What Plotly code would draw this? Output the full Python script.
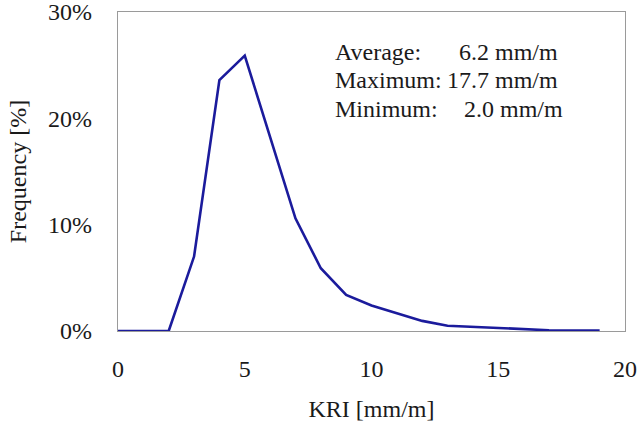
import plotly.graph_objects as go

kri = list(range(0, 20))
freq = [0.0, 0.0, 0.0, 7.0, 23.6, 25.9, 18.3, 10.6, 5.9, 3.4, 2.4, 1.7, 0.95, 0.5, 0.4, 0.3, 0.2, 0.07, 0.05, 0.05]

stat_labels = ["Average:", "Maximum:", "Minimum:"]
stat_values = ["6.2 mm/m", "17.7 mm/m", "2.0 mm/m"]

x_ticks = [0, 5, 10, 15, 20]
y_ticks = [0, 10, 20, 30]
y_ticktext = ["0%", "10%", "20%", "30%"]

FONT = "Liberation Serif"
TXT = "#1a1a1a"

fig = go.Figure()
fig.add_trace(go.Scatter(x=kri, y=freq, mode="lines",
                         line=dict(color="#1b1b9c", width=2.6), showlegend=False))

L, R, T, B = 117.5, 14, 11.5, 102
W, H = 639, 433
pw = W - L - R
ph = H - T - B

def px(x):
    return (x - L) / pw

def py(y):
    return (H - B - y) / ph

row_y = [52, 80, 109]
val_x = [457, 445, 462]
ann = []
for i in range(3):
    ann.append(dict(x=px(333), y=py(row_y[i]), xref="paper", yref="paper",
                    text=stat_labels[i], showarrow=False, xanchor="left", yanchor="middle",
                    font=dict(family=FONT, size=24, color=TXT)))
    ann.append(dict(x=px(val_x[i]), y=py(row_y[i]), xref="paper", yref="paper",
                    text=stat_values[i], showarrow=False, xanchor="left", yanchor="middle",
                    font=dict(family=FONT, size=24, color=TXT)))

fig.update_layout(
    width=W, height=H,
    margin=dict(l=L, r=R, t=T, b=B, autoexpand=False),
    paper_bgcolor="white", plot_bgcolor="white",
    font=dict(family=FONT, size=24, color=TXT),
    annotations=ann,
    xaxis=dict(range=[0, 20], tickvals=x_ticks, ticks="", showgrid=False, zeroline=False,
               showline=True, linecolor="#9a9a9a", linewidth=1.2, mirror=True,
               ticklabelstandoff=16, ticklabeloverflow="allow",
               title=dict(text="KRI [mm/m]", standoff=19, font=dict(size=24))),
    yaxis=dict(range=[0, 30], tickvals=y_ticks, ticktext=y_ticktext, ticks="", showgrid=False,
               zeroline=False, showline=True, linecolor="#9a9a9a", linewidth=1.2, mirror=True,
               ticklabelstandoff=20, ticklabeloverflow="allow",
               title=dict(text="Frequency [%]", standoff=14, font=dict(size=24))),
)

fig.write_html("out.html",
               config={"displayModeBar": False},
               post_script="document.body.style.margin='0';document.body.style.overflow='hidden';")
